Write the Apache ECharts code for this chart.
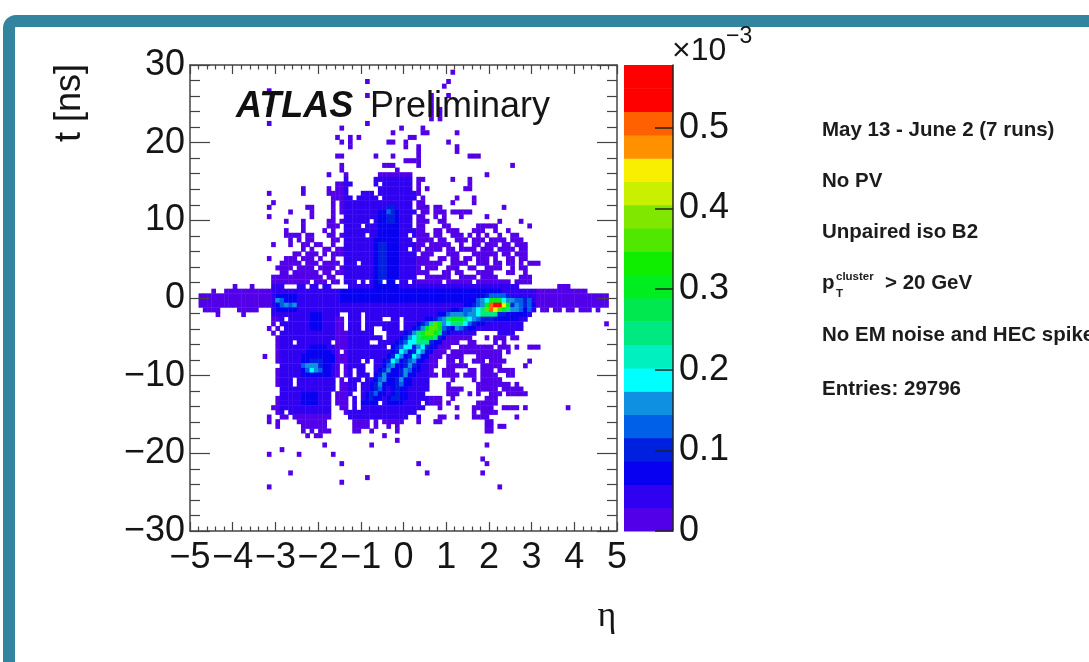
<!DOCTYPE html>
<html>
<head>
<meta charset="utf-8">
<style>
html,body{margin:0;padding:0;background:#fff;overflow:hidden}
#c{width:1089px;height:662px;filter:blur(0.45px)}
</style>
<script src="https://cdn.jsdelivr.net/npm/echarts@6/dist/echarts.min.js"></script>
</head>
<body>
<div id="c"></div>
<script>
// Histogram binning: 100 x 100 bins in eta [-5,5] and t [30,-30]. Row 0 is the top row.
const etaTicks = [-5,-4,-3,-2,-1,0,1,2,3,4,5];
const tTicks = [-30,-20,-10,0,10,20,30];
const zBandWidth = 0.0289;
const zMax = 0.578;
const paletteBands = ['#5200e8','#3000f0','#0800f0','#0020e0','#0060e8','#1090e0','#00ffff','#00f0c0','#00e880','#00e850',
  '#00ee20','#10ee00','#50e800','#80e800','#c8f000','#f8f000','#ff9000','#ff6000','#ff0000','#ff0000'];
const infoLines = ['May 13 - June 2 (7 runs)','No PV','Unpaired iso B2','No EM noise and HEC spikes','Entries: 29796'];

// Each entry: [rows, columns] — occupied bins, lowest colour band.
const level1 = [
['1','61'],['3','41 60'],['4','59'],['5','18'],['6','41 56 60'],['7-8','56'],['9','18 56 58'],['10-11','56 58'],
['12','18 41'],['13','35 49 54'],['14','47 54 55 62'],['15','34 37 39 51 52'],['16','35 37 46 47 50 60'],
['17','37 50 53 62'],['18','53 62'],['19','34 35 43 47 53 65-67'],['20','50-53'],['21','35 45-47 53 75'],
['22','35 48'],['23','32 36 44-51 69'],['24','36 43-51 53 54 61 65'],['25','34-37 43 45-51 53 65'],
['26','26 32 34-36 44-51 53 55 64 65'],['27','18 26 32-36 40-42 44-53'],['28','33-37 39-43 45-52 54 62 66'],
['29','19 33 35-51 53 54 61 66'],['30','18 27 28 33 35-51 53-55 57 58 73'],['31','23 28 33 35-52 54 55 57-59 61-65'],
['32','18 28 33 36-51 53 54 57 59 63 69'],['33','22 26 32 33 35-41 43-51 53-55 58 59 72 77'],
['34','26 32-34 36-39 41-51 53 54 59 60 67-71 79'],['35','22 26 31 33 36-51 52-54 57 58 60-62 66-68 71 74'],
['36','22-25 27 28 32 33 35-40 42-50 52-55 57 58 61-63 65 67 69 72 75 76'],
['37','23 25 27 28 33 34 36-51 53-56 58 59 62-64 66-68 70-73 75-77'],
['38','19 23 26 27 29 30 33 36-54 56-60 63 66 67 69-71 73 74 76-78'],
['39','26 28 31 32 34-50 52 53 55-58 60 61 63-66 68-70 72-75 77 78'],
['40','24 25 27-29 31 33-52 54-56 60-62 66-71 73 74 76-78'],
['41','18 22-24 26-28 30 33 36-55 58 59 61 62 64 65 67-69 71 74 75 77 78'],
['42','21-25 27-29 31-34 36-38 40-58 61-64 67-69 71 72 74 75 77 79-81'],
['43','20-23 25-28 30-33 35-53 55-57 60-62 65 66 69-72 75 77 78'],
['44','21 22 24-29 31 32 34-55 59 60 62 63 67-70 74 75 78'],
['45','19-30 32 33 36-52 55-60 63-66 68-71 77-79'],
['46','19-27 29-31 33 34 36-38 40 42-44 46 47 49 50 52-58 60-65 67-74 76-79'],
['47','10 14 19-21 25 26 28 29 31 32 37-76 86-88'],
['48','5 8-92'],['49-51','2-97'],['52','3-6 11-15 19-80 82 83 85 86 88 89 91-93 95'],
['53','6 12 19-34 37-39 41-79'],['54','19-21 23-35 37-39 41-44 47 48 50-78'],
['55','19 21-35 37-39 41-48 50-77 97'],['56','18 20 22-35 37-39 41 42 45-48 50-77'],
['57','19 21-42 46-66 72-75'],['58','20-44 46-65 69 71-73 75 76'],['59','20-23 25-32 34-41 44-62 65 66 71 73'],
['60','20-45 47-60 63-70 72-74 76 79-81'],['61','20-34 36-59 61-72 74'],['62','17 20-58 60-63 67-72'],
['63','20-39 41 43-57 60 61 63 66-68 70-73 79'],['64','21-34 36-40 43-57 60-64 68-72 78'],
['65','20-34 36 37 39 40 43-56 59-61 65 66 68-70 72-75'],['66','20-34 36 37 39-41 43-57 59-62 64-66 68-71 74 75'],
['67','20-23 25-33 35 37-39 41-55 61 66 68-72'],['68','20-23 25-33 35-38 40-55 60 67-74 76'],
['69','21-33 35-38 40-55 60-63 67-71 73-77'],['70','21-32 34-37 40-54 60-62 65 67 70-72 74-78'],
['71','20-32 34-36 38 40-58 61 69-71'],['72','20-32 34-36 38 40-43 45-53 55-58 60 67-71'],
['73','19-32 35 36 38 40-54 58 62 66-70 73-76 78 88'],['74','20 21 23-32 36-52 66 68-71'],
['75','18 21 22 24-32 37-50 53 58 59 62 66-69 76'],['76','18 20 25-31 38-41 43 45-49 53 57 58 69 70'],
['77','20 26-31 38-41 43 46 48 69 70 72 73'],['78','26 28 30-32 38 39 42 48 69 70'],['79','27 29 30 45'],
['80','48'],['81','31 42 69'],['82','21'],['83','18 25 33'],['84','68'],['85','35 53 69'],['87','23 55 68'],
['88','41'],['89','35'],['90','18 72']
];
const level2 = [['24-47','36-52'],['47-53','19-80'],['53-74','21-33'],['53-75','37-55'],['53-57','57-78']];
const level3 = [['31-47','44-48'],['37-47','43'],['48-50','35-72'],['49-52','20-24'],['53-56','28-30'],['60','28-31'],['61','27-32'],['62-63','26-33'],['64-66','26-32'],['70-72','26-29'],
['72','40-43 46-49'],['71','41-44 46-50'],['70','41-45 47-50'],['69','42-45 47-50'],['68','42-46 47-51'],['67','43-46 47-51'],
['66','43-52'],['65','44-53'],['64','45-53'],['63','45-54'],['62','46-55'],['61','47-56'],['60','47-57'],['59','48-58'],
['58','49-59'],['57','50-60'],['56','52-66'],['55','53-68'],['54','55-76'],['53','58-78'],['52','61-79'],['51','64-80']];
const level4 = [['30-33','46 47'],['38-46','44 45'],['63-65','28-30'],['71','42 47 48'],['70','42 43 48'],['69','43 48'],['68','43 44 48 49'],
['67','44 48 49'],['66','44 45 49 50'],['65','45 46 49-51'],['64','46 50-52'],['63','46 47 50-52'],['62','47 48 51-53'],
['61','48 49 52-54'],['60','48-50 52-55'],['59','49-56'],['58','50-58'],['57','51-59'],['56','53-60 62-64'],['55','54-66'],
['54','57-70'],['53','60-73'],['52','63-77'],['51','66-79'],['50','67-78'],['49','69-74']];
const level5 = [['31','46'],['50','20 21'],['51','21-24'],['64','26-29'],['65','27-30'],['70','43'],['69','44'],['68','44 49'],
['67','44 45 49'],['66','45 50'],['65','46 50 51'],['64','46 47 51'],['63','47 51 52'],['62','48 52 53'],['61','49 53'],
['60','49 50 53 54'],['59','50 51 54 55'],['58','51-56'],['57','52-58'],['56','54-59 62 63'],['55','55-65'],['54','58-67'],
['53','60-71'],['52','64-77 79'],['51','67-74 76 77 79'],['50','67-77 79'],['49','70-73']];
const level6 = [['50','20'],['51','22 24'],['64','27-29'],['65','28 29'],['68','44'],['67','45 49'],['66','45 50'],['65','46 50'],['64','47 51'],['63','47 48 52'],['62','48 49 52 53'],['61','49 50 53 54'],
['60','50 51 53 54'],['59','51 52 54 55'],['58','51-56'],['57','52-57'],['56','54-58 62'],['55','56-64'],['54','59-66'],
['53','61-63 65-71'],['52','66-76'],['51','68-74 76'],['50','68-75']];
const level7 = [['65','28'],['63','47'],['62','48 52'],['61','49 53'],['60','50 51 54'],['59','51-55'],['58','52-56'],['57','53-57'],['56','55-58'],
['55','56-58 60-64'],['54','60-65'],['53','67-70'],['52','67-74'],['51','69-74'],['50','69-73']];
const level9 = [['59','53-55'],['58','53-57'],['57','53-58'],['56','55-58'],['55','56-58 61-63'],['54','60-64'],['53','68-71'],['52','68-74'],['51','69-74'],['50','70-72']];
const level11 = [['58','54-56'],['57','54-57'],['56','55-58'],['55','57 58'],['54','61-63'],['52','69-73'],['51','69-74'],['50','70-72']];
const level13 = [['57','55 56'],['56','56 57'],['55','57'],['52','69-72'],['51','70-73']];
const level16 = [['52','70 71'],['51','70-73']];
const level18 = [['52','70'],['51','70-72']];
const level19 = [['51','71 72']];

const layers = [[1,level1],[2,level2],[3,level3],[4,level4],[5,level5],[6,level6],[7,level7],[9,level9],[11,level11],[13,level13],[16,level16],[18,level18],[19,level19]];

function expand(spec){
  const out=[];
  spec.trim().split(/\s+/).forEach(p=>{
    const m=p.split('-').map(Number);
    const a=m[0],b=m.length>1?m[1]:m[0];
    for(let i=a;i<=b;i++)out.push(i);
  });
  return out;
}
const cells=new Map();
layers.forEach(([lev,table])=>{
  table.forEach(([rows,cols])=>{
    const cs=expand(cols);
    expand(rows).forEach(r=>cs.forEach(c=>{
      const k=r*100+c;
      if(lev===1||cells.has(k))cells.set(k,lev);
    }));
  });
});
const histData=[];
cells.forEach((lev,k)=>{
  const r=Math.floor(k/100),c=k%100;
  histData.push([-5+0.1*c,30-0.6*r,(lev-0.5)*zBandWidth]);
});
const bandData=paletteBands.map((col,i)=>[i*zBandWidth,(i+1)*zBandWidth,i]);

const ink='#151515';
const lab={fontFamily:'Liberation Sans',fontSize:36,color:ink};
const axisLine={show:true,onZero:false,lineStyle:{color:'#444',width:1.5}};
function xAx(pos,show){return {type:'value',gridIndex:0,min:-5,max:5,interval:1,position:pos,z:5,
  axisLine:axisLine,splitLine:{show:false},
  axisTick:{show:true,inside:true,length:9,lineStyle:{color:'#444',width:1.2}},
  minorTick:{show:true,splitNumber:5,length:4.5,lineStyle:{color:'#444',width:1.2}},
  axisLabel:show?{...lab,margin:9,formatter:v=>String(v).replace('-','\u2212')}:{show:false}};}
function yAx(pos,show){return {type:'value',gridIndex:0,min:-30,max:30,interval:10,position:pos,z:5,
  axisLine:axisLine,splitLine:{show:false},
  axisTick:{show:true,inside:true,length:20,lineStyle:{color:'#444',width:1.2}},
  minorTick:{show:true,splitNumber:5,length:10,lineStyle:{color:'#444',width:1.2}},
  axisLabel:show?{...lab,margin:5,formatter:v=>String(v).replace('-','\u2212')}:{show:false}};}

const infoStyle={fontSize:20.5,fontWeight:'bold',fill:'#1c1c1c'};
const graphics=[
  {type:'rect',z:40,shape:{x:9,y:21,width:1200,height:800,r:7},style:{fill:'none',stroke:'#33849e',lineWidth:12}},
  {type:'text',z:50,x:70,y:103,rotation:Math.PI/2,originX:0,originY:0,style:{text:'t [ns]',fill:ink,fontFamily:'Liberation Sans',fontSize:36,align:'center',verticalAlign:'middle'}},
  {type:'text',z:50,x:607,y:617,style:{text:'\u03b7',fill:ink,fontFamily:'Liberation Serif',fontSize:36,align:'center',verticalAlign:'middle'}},
  {type:'text',z:50,x:672,y:51,style:{text:'\u00d710',fill:ink,fontFamily:'Liberation Sans',fontSize:32,verticalAlign:'middle'}},
  {type:'text',z:50,x:726,y:37,style:{text:'\u22123',fill:ink,fontFamily:'Liberation Sans',fontSize:23,verticalAlign:'middle'}},
  {type:'text',z:50,x:236,y:107,style:{text:'ATLAS',fill:'#111',fontFamily:'Liberation Sans',fontWeight:'bold',fontStyle:'italic',fontSize:36,verticalAlign:'middle'}},
  {type:'text',z:50,x:370,y:107,style:{text:'Preliminary',fill:ink,fontFamily:'Liberation Sans',fontSize:36,verticalAlign:'middle'}}
];
[[infoLines[0],130],[infoLines[1],181],[infoLines[2],232],[infoLines[3],335],[infoLines[4],389]].forEach(([s,y])=>{
  graphics.push({type:'text',z:50,x:822,y:y,style:Object.assign({text:s,fontFamily:'Liberation Sans',verticalAlign:'middle'},infoStyle)});
});
graphics.push({type:'text',z:50,x:822,y:283,style:Object.assign({text:'p',fontFamily:'Liberation Sans',verticalAlign:'middle'},infoStyle)});
graphics.push({type:'text',z:50,x:836,y:277,style:{text:'cluster',fontFamily:'Liberation Sans',fontWeight:'bold',fontSize:11.5,fill:'#1c1c1c',verticalAlign:'middle'}});
graphics.push({type:'text',z:50,x:836,y:294,style:{text:'T',fontFamily:'Liberation Sans',fontWeight:'bold',fontSize:11.5,fill:'#1c1c1c',verticalAlign:'middle'}});
graphics.push({type:'text',z:50,x:885,y:283,style:Object.assign({text:'> 20 GeV',fontFamily:'Liberation Sans',verticalAlign:'middle'},infoStyle)});

const chart=echarts.init(document.getElementById('c'),null,{renderer:'canvas'});
chart.setOption({
  animation:false,
  backgroundColor:'#fff',
  grid:[{left:190,top:65,width:427,height:466},{left:624,top:65,width:49,height:466}],
  xAxis:[xAx('bottom',true),xAx('top',false),
    {type:'value',gridIndex:1,min:0,max:1,show:false}],
  yAxis:[yAx('left',true),yAx('right',false),
    {type:'value',gridIndex:1,min:0,max:zMax,interval:0.1,position:'right',z:5,
     axisLine:{show:true,onZero:false,lineStyle:{color:'#222',width:1.5}},splitLine:{show:false},
     axisTick:{show:true,inside:true,length:18,lineStyle:{color:'#222',width:1.5}},
     axisLabel:{...lab,margin:6,showMaxLabel:false,formatter:v=>v===0?'0':String(Math.round(v*10)/10)}}],
  graphic:graphics,
  series:[
    {type:'custom',name:'entries',xAxisIndex:0,yAxisIndex:0,data:histData,silent:true,clip:true,z:1,
     encode:{x:0,y:1},
     renderItem:(p,api)=>{
       const a=api.coord([api.value(0),api.value(1)]);
       const b=api.coord([api.value(0)+0.1,api.value(1)-0.6]);
       const lev=Math.min(paletteBands.length-1,Math.floor(api.value(2)/zBandWidth));
       return {type:'rect',shape:{x:a[0],y:a[1],width:b[0]-a[0]+0.4,height:b[1]-a[1]+0.4},style:{fill:paletteBands[lev]}};
     }},
    {type:'custom',name:'palette',xAxisIndex:2,yAxisIndex:2,data:bandData,silent:true,
     encode:{y:[0,1]},z:1,
     renderItem:(p,api)=>{
       const a=api.coord([0,api.value(1)]);
       const b=api.coord([1,api.value(0)]);
       return {type:'rect',shape:{x:a[0],y:a[1],width:b[0]-a[0],height:b[1]-a[1]+0.5},style:{fill:paletteBands[api.value(2)]}};
     }}
  ]
});
</script>
</body>
</html>
